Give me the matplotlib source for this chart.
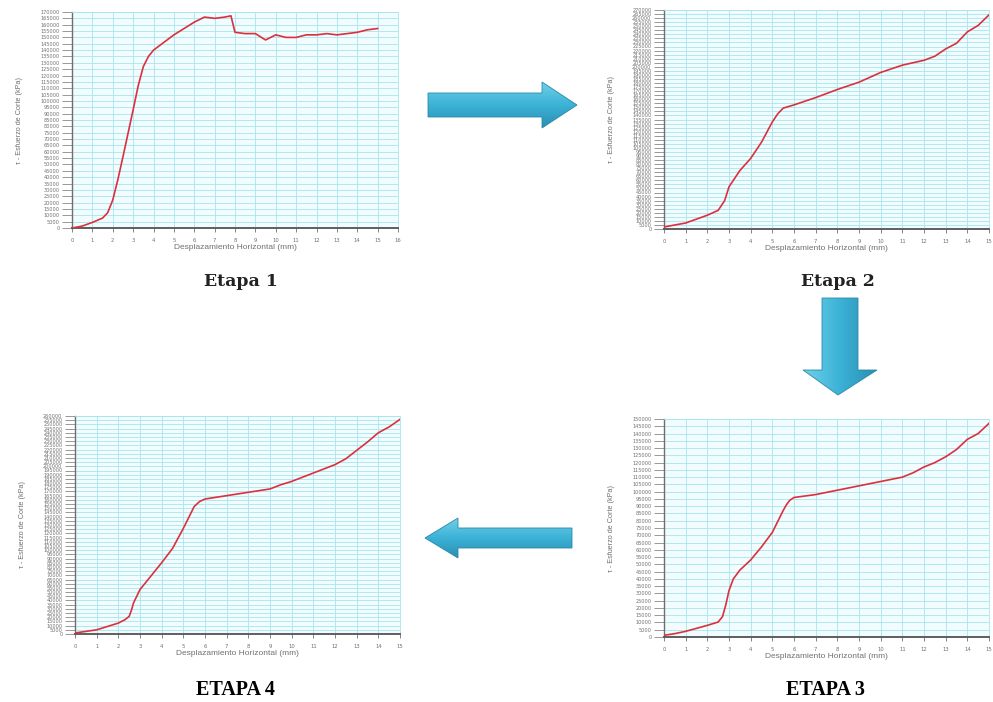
import numpy as np
import matplotlib
matplotlib.use("Agg")
import matplotlib.pyplot as plt
from matplotlib.patches import Polygon

W, H = 993, 702

# ---- data (x in mm, tau in thousands) ----
x1 = [0, 0.5, 1, 1.5, 1.75, 2, 2.25, 2.5, 3, 3.25, 3.5, 3.75, 4, 4.5, 5, 5.5,
      6, 6.5, 7, 7.5, 7.8, 8, 8.5, 9, 9.5, 10, 10.5, 11, 11.5, 12, 12.5, 13,
      13.5, 14, 14.5, 15]
tau1 = [0, 1.5, 4.4, 7.8, 12, 22, 38, 56, 93, 112, 127, 135, 140, 146, 152,
        157, 162, 166, 165, 166, 167, 154, 153, 153, 148, 152, 150, 150, 152,
        152, 153, 152, 153, 154, 156, 157]

x2 = [0, 1, 2, 2.5, 2.8, 3, 3.5, 4, 4.5, 5, 5.25, 5.5, 5.75, 6, 7, 8, 9, 10,
      11, 12, 12.5, 13, 13.5, 14, 14.5, 15]
tau2 = [2.5, 7.4, 17, 23, 35, 52, 72, 87, 107, 132, 142, 149, 151, 153, 162,
        172, 181, 193, 202, 208, 213, 222, 229, 243, 251, 264]

x3 = [0, 0.5, 1, 2, 2.5, 2.7, 2.85, 3, 3.2, 3.5, 4, 4.5, 5, 5.5, 5.65, 5.8, 6,
      7, 8, 9, 10, 11, 11.5, 12, 12.5, 13, 13.5, 14, 14.5, 15]
tau3 = [1.2, 2.3, 3.9, 8, 10.3, 14, 22, 32, 40, 46, 53, 62, 72, 87, 91, 94,
        96, 98, 101, 104, 107, 110, 113, 117, 120, 124, 129, 136, 140, 147]

x4 = [0, 1, 2, 2.3, 2.5, 2.6, 2.7, 3, 3.5, 4, 4.5, 5, 5.5, 5.75, 6, 6.5, 7, 8,
      9, 9.5, 10, 11, 12, 12.5, 13, 13.5, 14, 14.5, 15]
tau4 = [1.2, 5, 13, 17, 21, 28, 37, 53, 69, 85, 102, 126, 152, 158, 161, 163,
        165, 169, 173, 178, 182, 192, 202, 209, 219, 229, 240, 247, 256]

ymax = [170, 270, 150, 260]
xmax = [16, 15, 15, 15]
captions = ["Etapa 1", "Etapa 2", "ETAPA 3", "ETAPA 4"]

ylabel = "τ - Esfuerzo de Corte (kPa)"
xlabel = "Desplazamiento Horizontal (mm)"

# pixel boxes (left, top, right, bottom) for each plot area
boxes = [(72, 12, 398, 228), (664, 10, 989, 229),
         (664, 419, 989, 637), (75, 416, 400, 634)]

line_red = "#dd2f3c"
bg = "#f0fcfd"
grid_c = "#a9e5ee"
txt_c = "#707070"

fig = plt.figure(figsize=(W / 100, H / 100), dpi=100)
fig.patch.set_facecolor("white")

# overlay axes in pixel space for the block arrows
ov = fig.add_axes([0, 0, 1, 1], zorder=0)
ov.set_xlim(0, W)
ov.set_ylim(H, 0)
ov.axis("off")
ov.patch.set_alpha(0)

arrow_cmap = matplotlib.colors.LinearSegmentedColormap.from_list(
    "arr", ["#6fd0e8", "#3bb2d6", "#2a8fb2"])


def arrow(pts, horizontal=True):
    poly = Polygon(pts, closed=True, facecolor="none", edgecolor="#2a89a8",
                   linewidth=0.6, zorder=3)
    ov.add_patch(poly)
    xs = [p[0] for p in pts]
    ys = [p[1] for p in pts]
    g = np.linspace(0, 1, 64)
    grad = g[:, None] if horizontal else g[None, :]
    im = ov.imshow(grad, cmap=arrow_cmap,
                   extent=(min(xs), max(xs), max(ys), min(ys)),
                   aspect="auto", zorder=2)
    im.set_clip_path(Polygon(pts, closed=True, transform=ov.transData))


arrow([(428, 93), (542, 93), (542, 82), (577, 105), (542, 128),
       (542, 117), (428, 117)], horizontal=True)
arrow([(822, 298), (858, 298), (858, 370), (877, 370), (838, 395),
       (803, 370), (822, 370)], horizontal=False)
arrow([(572, 528), (458, 528), (458, 518), (425, 538), (458, 558),
       (458, 548), (572, 548)], horizontal=True)

series = [(x1, tau1), (x2, tau2), (x3, tau3), (x4, tau4)]

for i, (xs, ys) in enumerate(series):
    l, t, r, b = boxes[i]
    ax = fig.add_axes([l / W, 1 - b / H, (r - l) / W, (b - t) / H], zorder=1)
    ax.set_facecolor(bg)
    ax.plot(xs, ys, color=line_red, linewidth=1.2, zorder=3)
    ax.set_xlim(0, xmax[i])
    ax.set_ylim(0, ymax[i])
    xt = np.arange(0, xmax[i] + 1)
    yt = np.arange(0, ymax[i] + 1, 5)
    ax.set_xticks(xt)
    ax.set_xticklabels([str(v) for v in xt])
    ax.set_yticks(yt)
    ax.set_yticklabels([str(int(v * 1000)) for v in yt])
    ax.grid(True, color=grid_c, linewidth=0.6)
    ax.set_axisbelow(True)
    ax.tick_params(axis="y", labelsize=3.6, colors=txt_c, length=7,
                   width=0.5, pad=2)
    ax.tick_params(axis="x", labelsize=3.8, colors=txt_c, length=3,
                   width=0.6, pad=4)
    for s in ("top", "right"):
        ax.spines[s].set_color(grid_c)
        ax.spines[s].set_linewidth(0.6)
    ax.spines["left"].set_color("#6e6e6e")
    ax.spines["left"].set_linewidth(1.0)
    ax.spines["bottom"].set_color("#5e5e5e")
    ax.spines["bottom"].set_linewidth(1.4)
    ax.set_xlabel(xlabel, fontsize=6, color=txt_c, labelpad=1,
                  family="Liberation Sans")
    ax.set_ylabel(ylabel, fontsize=5.2, color=txt_c, labelpad=12,
                  family="Liberation Sans")

# captions
fig.text(241 / W, 1 - 282 / H, captions[0], ha="center", va="center",
         fontsize=12.5, fontweight="bold", family="DejaVu Serif", color="#222222")
fig.text(838 / W, 1 - 282 / H, captions[1], ha="center", va="center",
         fontsize=12.5, fontweight="bold", family="DejaVu Serif", color="#222222")
fig.text(826 / W, 1 - 690 / H, captions[2], ha="center", va="center",
         fontsize=14.5, fontweight="bold", family="Liberation Serif", color="black")
fig.text(235 / W, 1 - 690 / H, captions[3], ha="center", va="center",
         fontsize=14.5, fontweight="bold", family="Liberation Serif", color="black")

fig.savefig("out.png", dpi=100)
